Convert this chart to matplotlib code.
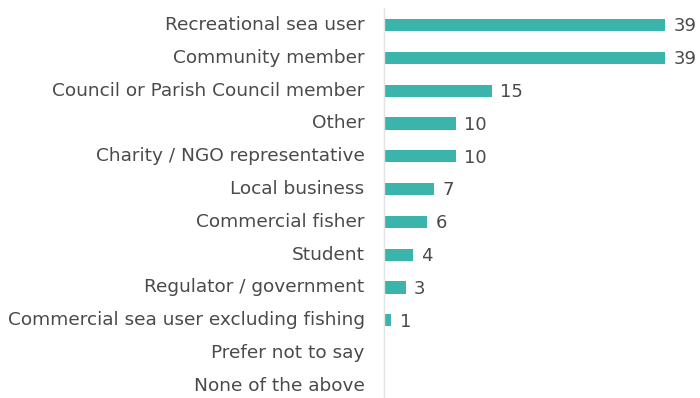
import matplotlib
matplotlib.use('Agg')
import matplotlib.pyplot as plt

# Respondent categories and counts
categories = ['Recreational sea user', 'Community member',
              'Council or Parish Council member', 'Other',
              'Charity / NGO representative', 'Local business',
              'Commercial fisher', 'Student', 'Regulator / government',
              'Commercial sea user excluding fishing', 'Prefer not to say',
              'None of the above']
counts = [39, 39, 15, 10, 10, 7, 6, 4, 3, 1, 0, 0]

bar_color = '#3BB5AC'
text_color = '#4a4a4a'

plt.rcParams['font.family'] = ['DejaVu Sans']

fig = plt.figure(figsize=(7, 3.98), dpi=100)
ax = fig.add_axes([384 / 700, 0, 281 / 700, 390 / 398])

pos = list(range(len(categories)))
ax.barh(pos, counts, height=0.37, color=bar_color)
ax.set_xlim(0, 39)
ax.set_ylim(11.37, -0.52)

for i, v in zip(pos, counts):
    if v > 0:
        ax.annotate(str(v), (v, i), xytext=(6, -1), textcoords='offset points',
                    ha='left', va='center', fontsize=13, color=text_color,
                    annotation_clip=False)

ax.set_yticks(pos)
ax.set_yticklabels(categories, fontsize=13.3, color=text_color, va='center')
ax.tick_params(axis='y', length=0, pad=14)
ax.set_xticks([])

for s in ['top', 'right', 'bottom']:
    ax.spines[s].set_visible(False)
ax.spines['left'].set_color('#e3e3e3')
ax.spines['left'].set_linewidth(1)

fig.savefig('out.png', dpi=100)
